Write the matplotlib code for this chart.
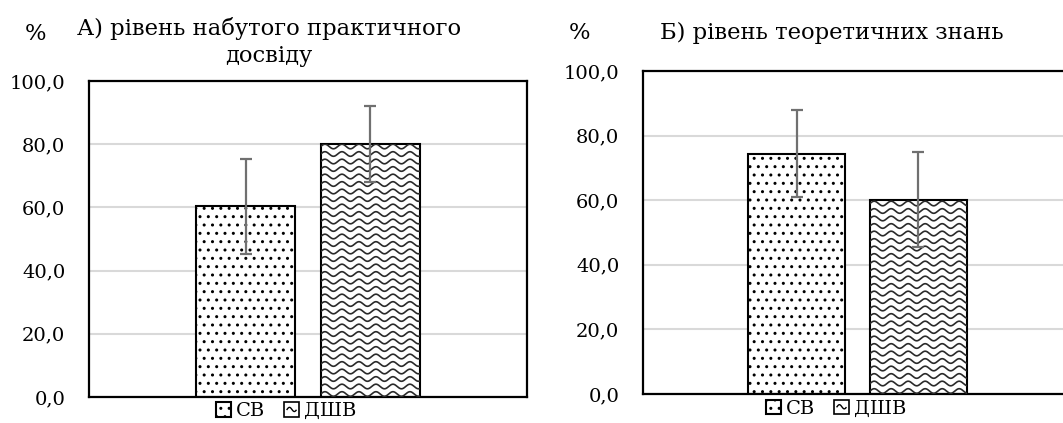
import numpy as np
import matplotlib
matplotlib.use("Agg")
import matplotlib.pyplot as plt
from matplotlib.patches import Rectangle
from matplotlib.lines import Line2D
from matplotlib.legend_handler import HandlerBase
from matplotlib.ticker import FuncFormatter

plt.rcParams["font.family"] = ["DejaVu Serif"]
plt.rcParams["hatch.linewidth"] = 1.0

#Data
series = ["СВ", "ДШВ"]
titles = ["А) рівень набутого практичного\nдосвіду", "Б) рівень теоретичних знань"]
practice_mean = [60.4, 80.1]
practice_err = [15.0, 12.0]
theory_mean = [74.4, 60.1]
theory_err = [13.4, 14.7]

FS = 14
TITLE_FS = 16.3
BAR_W = 0.226
OFFSET = 0.142


def draw_waves(ax, bar):
    #wave pattern clipped to the bar, sized in pixels
    sx = ax.bbox.width / (ax.get_xlim()[1] - ax.get_xlim()[0])
    sy = ax.bbox.height / (ax.get_ylim()[1] - ax.get_ylim()[0])
    x0, w, h = bar.get_x(), bar.get_width(), bar.get_height()
    wpx, hpx = w * sx, h * sy
    xs = np.linspace(0, wpx, 300)
    for base in np.arange(3, hpx + 8, 7.5):
        ys = base + 2.3 * np.sin(2 * np.pi * xs / 17.0)
        ln, = ax.plot(x0 + xs / sx, ys / sy, color="#2a2a2a", lw=1.2, zorder=3)
        ln.set_clip_path(bar)


class WaveHandler(HandlerBase):
    def create_artists(self, legend, orig_handle, xdescent, ydescent,
                       width, height, fontsize, trans):
        rect = Rectangle((-xdescent, -ydescent), width, height,
                         facecolor="white", edgecolor="black", lw=1.2, transform=trans)
        xs = np.linspace(-xdescent + 2, -xdescent + width - 2, 30)
        ys = -ydescent + height / 2 + 1.5 * np.sin(2 * np.pi * (xs - xs[0]) / (width / 1.5))
        ln = Line2D(xs, ys, color="black", lw=1.0, transform=trans)
        return [rect, ln]


fig = plt.figure(figsize=(10.63, 4.23), dpi=100)
ax1 = fig.add_axes([89 / 1063, 26 / 423, 438 / 1063, 316 / 423])
ax2 = fig.add_axes([643 / 1063, 29 / 423, 429 / 1063, 323 / 423])

for ax, means, errs in [(ax1, practice_mean, practice_err), (ax2, theory_mean, theory_err)]:
    ax.set_xlim(-0.5, 0.5)
    ax.set_ylim(0, 100)
    ax.set_yticks([0, 20, 40, 60, 80, 100])
    ax.yaxis.set_major_formatter(FuncFormatter(lambda v, p: f"{v:.1f}".replace(".", ",")))
    ax.tick_params(axis="y", length=0, pad=17, labelsize=FS)
    ax.set_xticks([])
    ax.yaxis.grid(True, color="#d9d9d9", lw=1.5)
    ax.set_axisbelow(True)
    for sp in ax.spines.values():
        sp.set_linewidth(1.6)
        sp.set_color("black")

    b1 = ax.bar(-OFFSET, means[0], BAR_W, color="white", edgecolor="black",
                lw=1.5, hatch="..", zorder=2, label=series[0])[0]
    b2 = ax.bar(OFFSET, means[1], BAR_W, color="white", edgecolor="black",
                lw=1.5, zorder=2, label=series[1])[0]
    draw_waves(ax, b2)
    ax.errorbar([-OFFSET, OFFSET], means, yerr=errs, fmt="none", ecolor="#707070",
                elinewidth=1.6, capsize=4, capthick=1.6, zorder=4)

    ax.legend([b1, b2], series, handler_map={b2: WaveHandler()},
              loc="center", bbox_to_anchor=(0.45, -0.045), ncol=2, frameon=False,
              fontsize=FS, handlelength=0.75, handleheight=0.75,
              handletextpad=0.25, columnspacing=1.0, borderpad=0)

fig.text(269 / 1063, 1 - 42 / 423, titles[0], ha="center", va="center",
         fontsize=TITLE_FS, linespacing=1.35)
fig.text(832 / 1063, 1 - 33 / 423, titles[1], ha="center", va="center", fontsize=TITLE_FS)
fig.text(35 / 1063, 1 - 34 / 423, "%", ha="center", va="center", fontsize=TITLE_FS)
fig.text(580 / 1063, 1 - 33 / 423, "%", ha="center", va="center", fontsize=TITLE_FS)

fig.savefig("out.png", dpi=100)
